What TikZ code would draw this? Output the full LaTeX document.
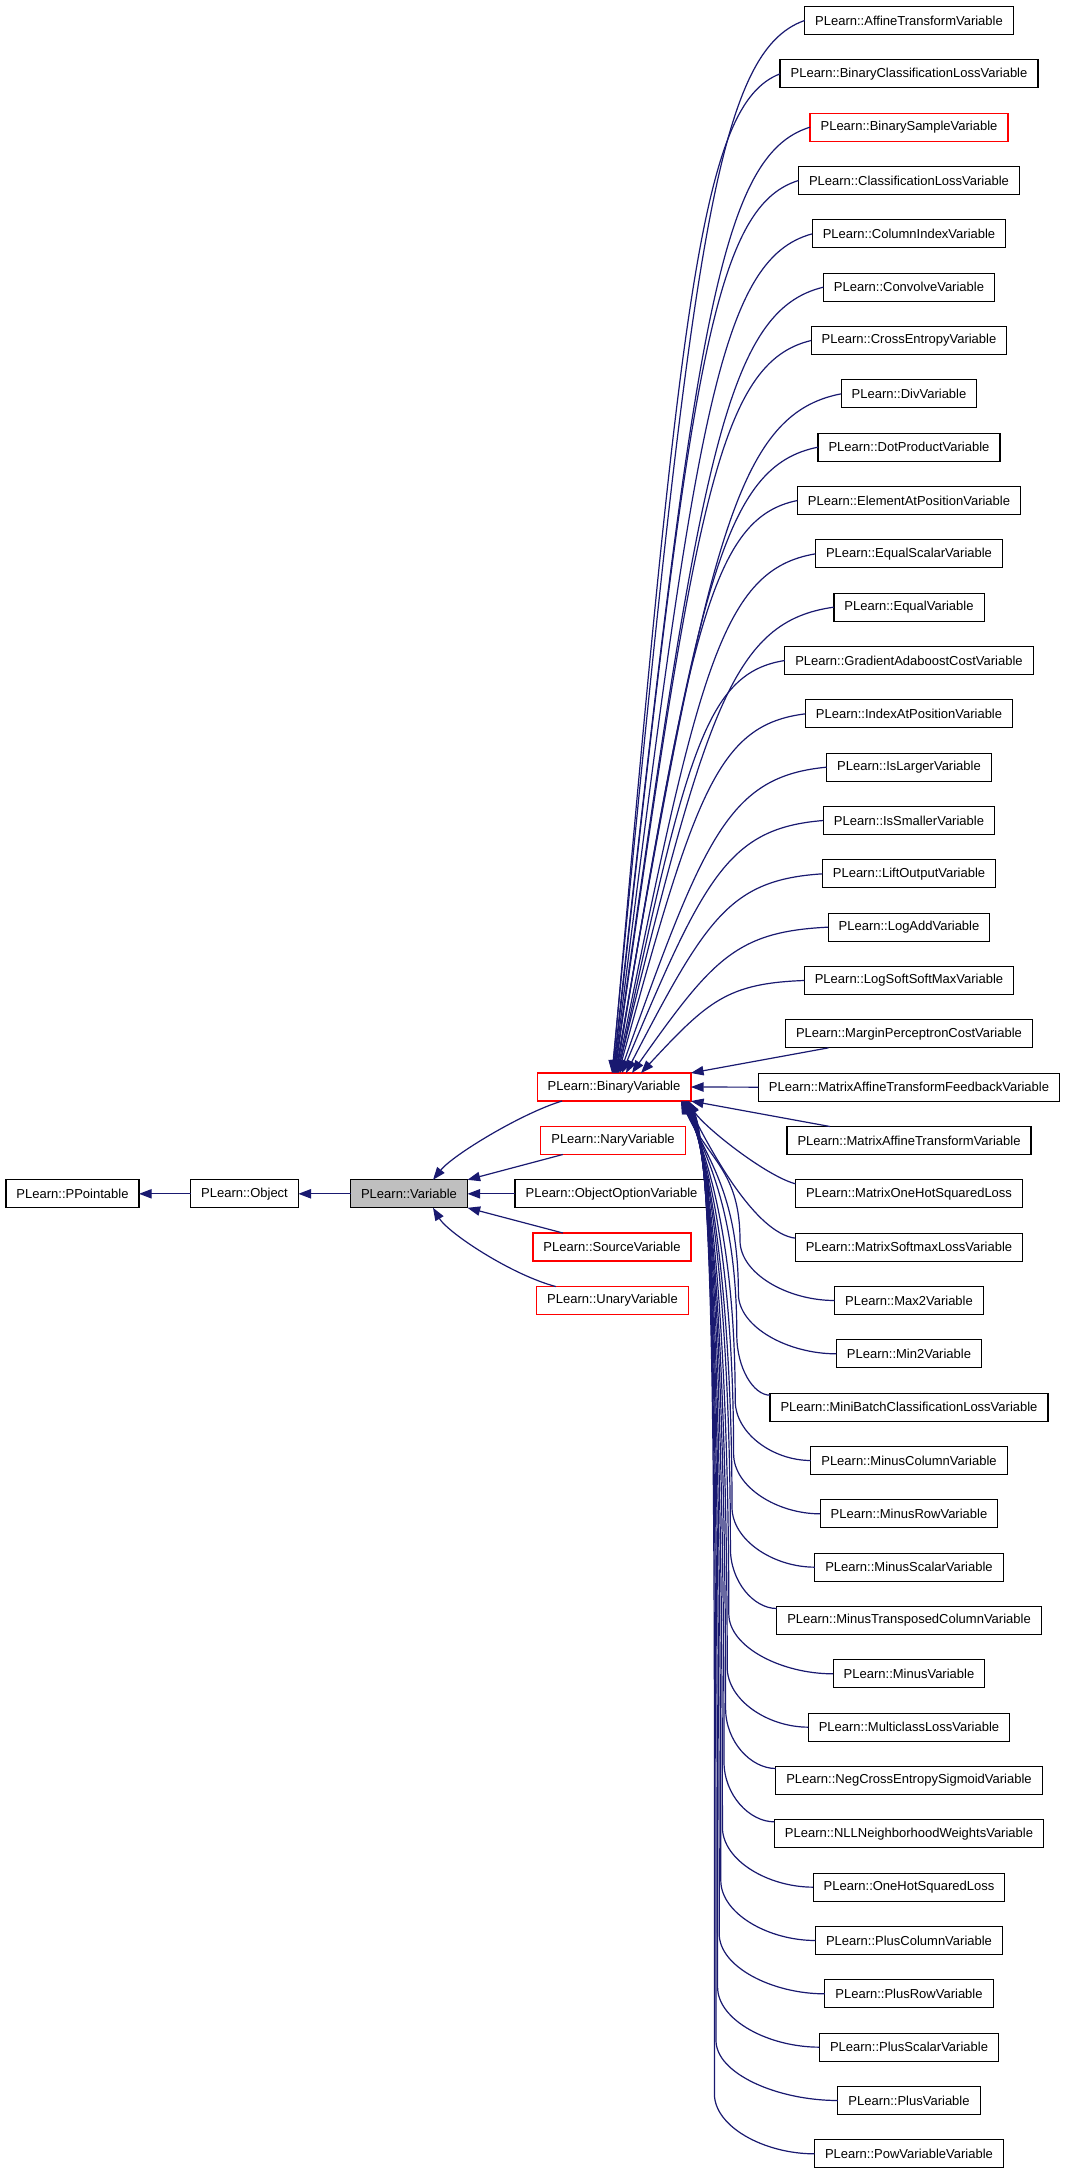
\documentclass[tikz,border=0pt]{standalone}
\usepackage{fontspec}
\setmainfont{Liberation Sans}
\usetikzlibrary{arrows.meta,calc}
\definecolor{edgeblue}{HTML}{191970}
\definecolor{boxred}{HTML}{FF0000}
\definecolor{boxgray}{HTML}{BFBFBF}
\begin{document}
\begin{tikzpicture}[x=0.75pt,y=-0.75pt,
  box/.style={draw=black, line width=0.9pt, fill=white, minimum height=21pt,
    inner xsep=7.9pt, inner ysep=0pt, outer sep=0pt,
    font=\fontsize{9.75pt}{11pt}\selectfont, anchor=center},
  redbox/.style={box, draw=boxred},
  graybox/.style={box, fill=boxgray},
  edge/.style={draw=edgeblue, line width=0.9pt,
    -{Triangle[length=9.5pt,width=7pt]}}]
\fill[white] (0,0) rectangle (1067,2173);
\useasboundingbox (0,0) rectangle (1067,2173);

% left part
\node[box] (pp) at (72.5,1193.8) {PLearn::PPointable};
\node[box] (obj) at (244.5,1193.8) {PLearn::Object};
\node[graybox] (var) at (409,1193.8) {PLearn::Variable};
\node[redbox] (bin) at (614,1087) {PLearn::BinaryVariable};
\node[redbox] (nary) at (613,1140.5) {PLearn::NaryVariable};
\node[box] (oov) at (611.5,1193.8) {PLearn::ObjectOptionVariable};
\node[redbox] (src) at (612,1247) {PLearn::SourceVariable};
\node[redbox] (un) at (612.5,1300.5) {PLearn::UnaryVariable};

% right column
\foreach \r/\t/\c in {
 0/AffineTransformVariable/black,
 1/BinaryClassificationLossVariable/black,
 2/BinarySampleVariable/boxred,
 3/ClassificationLossVariable/black,
 4/ColumnIndexVariable/black,
 5/ConvolveVariable/black,
 6/CrossEntropyVariable/black,
 7/DivVariable/black,
 8/DotProductVariable/black,
 9/ElementAtPositionVariable/black,
 10/EqualScalarVariable/black,
 11/EqualVariable/black,
 12/GradientAdaboostCostVariable/black,
 13/IndexAtPositionVariable/black,
 14/IsLargerVariable/black,
 15/IsSmallerVariable/black,
 16/LiftOutputVariable/black,
 17/LogAddVariable/black,
 18/LogSoftSoftMaxVariable/black,
 19/MarginPerceptronCostVariable/black,
 20/MatrixAffineTransformFeedbackVariable/black,
 21/MatrixAffineTransformVariable/black,
 22/MatrixOneHotSquaredLoss/black,
 23/MatrixSoftmaxLossVariable/black,
 24/Max2Variable/black,
 25/Min2Variable/black,
 26/MiniBatchClassificationLossVariable/black,
 27/MinusColumnVariable/black,
 28/MinusRowVariable/black,
 29/MinusScalarVariable/black,
 30/MinusTransposedColumnVariable/black,
 31/MinusVariable/black,
 32/MulticlassLossVariable/black,
 33/NegCrossEntropySigmoidVariable/black,
 34/NLLNeighborhoodWeightsVariable/black,
 35/OneHotSquaredLoss/black,
 36/PlusColumnVariable/black,
 37/PlusRowVariable/black,
 38/PlusScalarVariable/black,
 39/PlusVariable/black,
 40/PowVariableVariable/black}
{
  \node[box, draw=\c] (c\r) at (909,{20.5+53.333*\r}) {PLearn::\t};
}

% left edges
\draw[edge] (obj.west) -- (pp.east);
\draw[edge] (var.west) -- (obj.east);
\draw[edge] ($(bin.south west)+(25,0)$) .. controls +(-40,12) and +(20,-25) .. ($(var.north)+(24,0)$);
\draw[edge] ($(nary.south west)+(22,0)$) -- (var.north east);
\draw[edge] (oov.west) -- (var.east);
\draw[edge] ($(src.north west)+(30,0)$) -- (var.south east);
\draw[edge] ($(un.north west)+(19,0)$) .. controls +(-45,-12) and +(15,25) .. ($(var.south)+(24,0)$);

% upper children
\foreach \r/\sx in {0/-2,1/-1.5,2/-1,3/-0.5,4/0,5/0.5,6/1,7/1.5,8/2,9/2.5,10/3,11/3.5,12/4,13/4.5,14/6,15/8,16/12,17/18,18/27}{
  \draw[edge] let \p1=(c\r.west), \p2=($(bin.north)+(\sx,0)$) in
    (\p1) .. controls ({\x1+0.47*(\x2-\x1)},{\y1+0.03*(\y2-\y1)})
             and ({\x2+0.41*(\x1-\x2)},{\y2+0.78*(\y1-\y2)}) .. (\p2);
}

% near children
\draw[edge] ($(c19.south west)+(43,0)$) -- (bin.north east);
\draw[edge] (c20.west) -- (bin.east);
\draw[edge] ($(c21.north west)+(43,0)$) -- (bin.south east);
\draw[edge] ($(c22.west)+(0,-10)$) .. controls +(-30,-8) and +(15,25) .. ($(bin.south east)+(-3,0)$);
\draw[edge] ($(c23.west)+(0,-9)$) .. controls +(-40,-5) and +(25,50) .. ($(bin.south east)+(-5,0)$);

% lower children
\foreach \r/\ey/\xv/\sx in {24/0/740/-10, 25/0/738.4/-9.5, 26/-12/736.8/-9, 27/0/735.2/-8.5,
  28/0/733.6/-8, 29/0/732/-7.5, 30/-12/730.4/-7, 31/0/728.8/-6.5, 32/0/727.2/-6,
  33/-12/725.6/-5.5, 34/-12/724/-5, 35/0/722.4/-4.5, 36/0/720.8/-4, 37/0/719.2/-3.5,
  38/0/717.6/-3, 39/0/716/-2.5, 40/0/714.4/-2}{
  \pgfmathsetmacro\yv{20.5+53.333*\r+\ey-60}
  \draw[edge] let \p1=($(c\r.west)+(0,\ey)$), \p2=($(bin.south east)+(\sx,0)$), \p3=(\xv,\yv) in
    (\p1) .. controls ({\x3+0.5*(\x1-\x3)},\y1) and (\x3,{\y1+0.45*(\y3-\y1)}) .. (\p3)
          .. controls (\x3,{\y3+0.5*(\y2-\y3)}) and ({\x2+21pt},{\y2-45pt}) .. (\p2);
}
\end{tikzpicture}
\end{document}
